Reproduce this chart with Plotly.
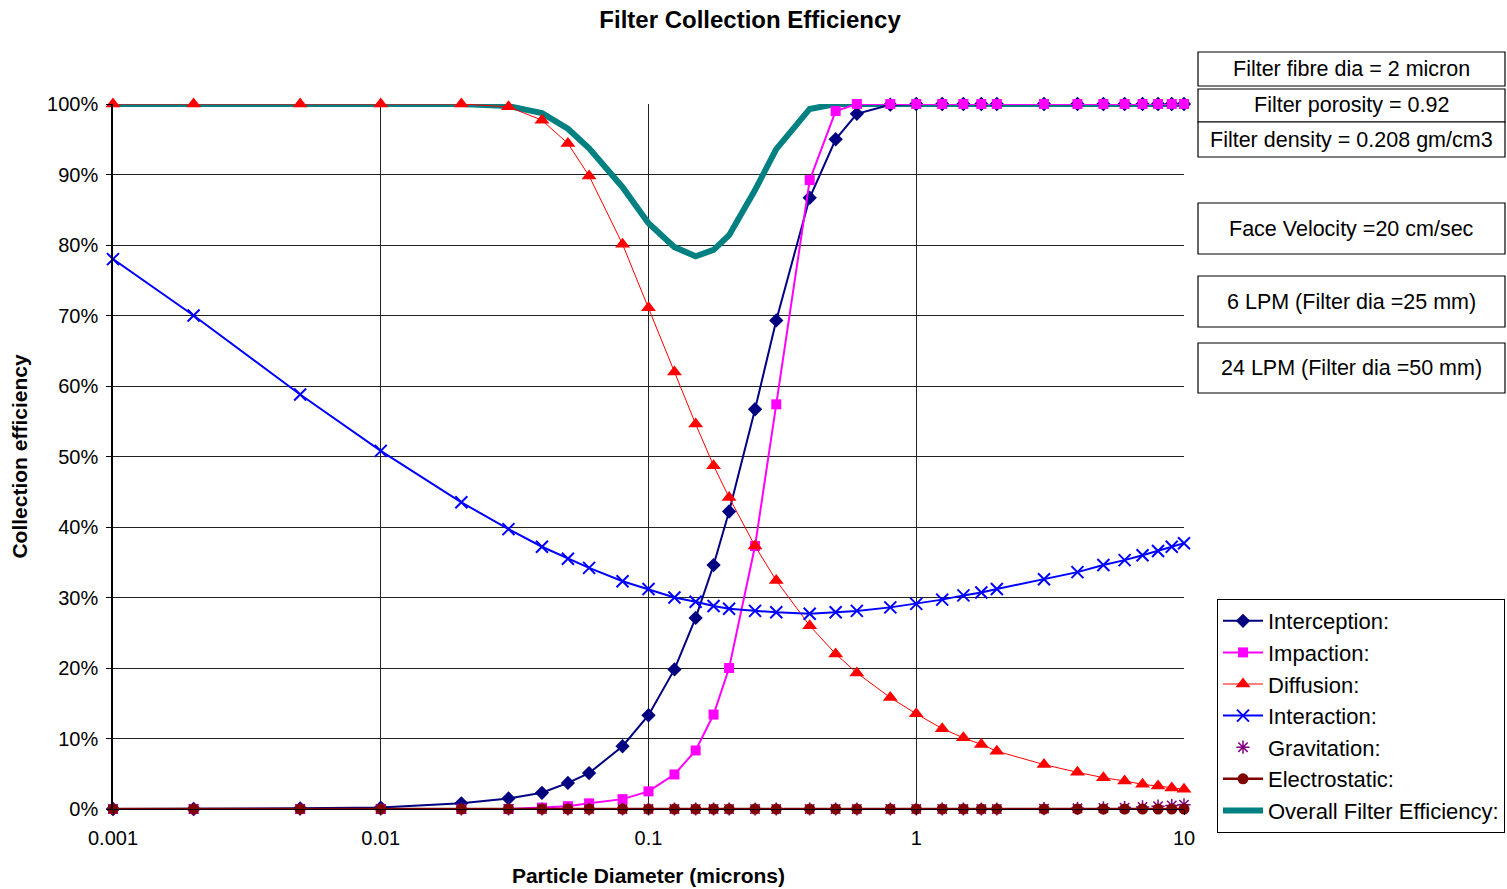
import plotly.graph_objects as go

# Particle diameters (microns)
diameter = [0.001, 0.002, 0.005, 0.01, 0.02, 0.03, 0.04, 0.05, 0.06, 0.08,
            0.1, 0.125, 0.15, 0.175, 0.2, 0.25, 0.3, 0.4, 0.5, 0.6, 0.8,
            1, 1.25, 1.5, 1.75, 2, 3, 4, 5, 6, 7, 8, 9, 10]

# Collection efficiency of each mechanism (%)
interception = [0.0, 0.0, 0.1, 0.2, 0.8, 1.5, 2.3, 3.7, 5.1, 8.9,
                13.3, 19.8, 27.1, 34.6, 42.2, 56.7, 69.3, 86.7, 95.0, 98.6, 99.9,
                100, 100, 100, 100, 100, 100, 100, 100, 100, 100, 100, 100, 100]
impaction = [0.0, 0.0, 0.0, 0.0, 0.0, 0.0, 0.2, 0.4, 0.8, 1.4,
             2.5, 4.9, 8.3, 13.4, 20.0, 37.3, 57.4, 89.2, 99.0, 100, 100,
             100, 100, 100, 100, 100, 100, 100, 100, 100, 100, 100, 100, 100]
diffusion = [100, 100, 100, 100, 100, 99.6, 97.7, 94.4, 89.8, 80.1,
             71.1, 62.0, 54.6, 48.7, 44.2, 37.3, 32.4, 26.0, 22.0, 19.3, 15.8,
             13.5, 11.4, 10.1, 9.15, 8.2, 6.3, 5.2, 4.45, 3.97, 3.5, 3.26, 2.98, 2.8]
interaction = [78.0, 70.0, 58.8, 50.8, 43.5, 39.7, 37.2, 35.5, 34.2, 32.3,
               31.2, 30.0, 29.4, 28.8, 28.4, 28.1, 27.9, 27.7, 27.9, 28.1, 28.6,
               29.1, 29.7, 30.3, 30.7, 31.2, 32.6, 33.6, 34.6, 35.3, 36.0, 36.6, 37.2, 37.7]
gravitation = [0, 0, 0, 0, 0, 0, 0, 0, 0, 0,
               0, 0, 0, 0, 0, 0, 0, 0, 0, 0, 0,
               0, 0, 0, 0, 0, 0.05, 0.1, 0.15, 0.2, 0.3, 0.4, 0.5, 0.6]
electrostatic = [0] * len(diameter)
overall = [100, 100, 100, 100, 100, 99.7, 98.7, 96.5, 93.7, 88.2,
           83.1, 79.7, 78.4, 79.3, 81.4, 87.8, 93.6, 99.3, 100, 100, 100,
           100, 100, 100, 100, 100, 100, 100, 100, 100, 100, 100, 100, 100]

x_ticks = [0.001, 0.01, 0.1, 1, 10]
x_tick_labels = ["0.001", "0.01", "0.1", "1", "10"]

info_boxes = ["Filter fibre dia = 2 micron", "Filter porosity = 0.92",
              "Filter density = 0.208 gm/cm3", "Face Velocity =20 cm/sec",
              "6 LPM (Filter dia =25 mm)", "24 LPM (Filter dia =50 mm)"]

FONT = "Liberation Sans, Arial, sans-serif"
W, H = 1507, 889
L, R, T, B = 113, 323, 104, 80
PW, PH = W - L - R, H - T - B


def pct(values):
    return [v / 100 for v in values]


fig = go.Figure()

# Overall efficiency drawn first so the mechanism markers sit on top of it
fig.add_trace(go.Scatter(x=diameter, y=pct(overall), name="Overall Filter Efficiency:",
                         mode="lines", line=dict(color="#008080", width=6),
                         legendrank=7))
fig.add_trace(go.Scatter(x=diameter, y=pct(interception), name="Interception:",
                         mode="lines+markers", line=dict(color="#000080", width=2),
                         marker=dict(symbol="diamond", size=11, color="#000080"),
                         legendrank=1))
fig.add_trace(go.Scatter(x=diameter, y=pct(impaction), name="Impaction:",
                         mode="lines+markers", line=dict(color="#FF00FF", width=2),
                         marker=dict(symbol="square", size=10, color="#FF00FF"),
                         legendrank=2))
fig.add_trace(go.Scatter(x=diameter, y=pct(diffusion), name="Diffusion:",
                         mode="lines+markers", line=dict(color="#FF0000", width=1),
                         marker=dict(symbol="triangle-up", size=13, color="#FF0000"),
                         legendrank=3))
fig.add_trace(go.Scatter(x=diameter, y=pct(interaction), name="Interaction:",
                         mode="lines+markers", line=dict(color="#0000FF", width=2),
                         marker=dict(symbol="x-thin-open", size=12, color="#0000FF",
                                     line=dict(color="#0000FF", width=2)),
                         legendrank=4))
fig.add_trace(go.Scatter(x=diameter, y=pct(gravitation), name="Gravitation:",
                         mode="markers",
                         marker=dict(symbol="asterisk-open", size=11, color="#800080",
                                     line=dict(color="#800080", width=1.5)),
                         legendrank=5))
fig.add_trace(go.Scatter(x=diameter, y=pct(electrostatic), name="Electrostatic:",
                         mode="lines+markers", line=dict(color="#800000", width=2.5),
                         marker=dict(symbol="circle", size=11, color="#800000"),
                         legendrank=6))

fig.update_traces(cliponaxis=False)


def px_x(px):
    return (px - L) / PW


def px_y(py):
    return (H - B - py) / PH


# Parameter boxes to the right of the plot
box_rows = [(52, 86), (89, 122), (122, 157), (203, 254), (276, 327), (343, 393)]
for text, (y0, y1) in zip(info_boxes, box_rows):
    fig.add_shape(type="rect", xref="paper", yref="paper",
                  x0=px_x(1198), x1=px_x(1505), y0=px_y(y1), y1=px_y(y0),
                  line=dict(color="black", width=1.2), fillcolor="white")
    fig.add_annotation(text=text, xref="paper", yref="paper",
                       x=px_x(1351.5), y=px_y((y0 + y1) / 2),
                       xanchor="center", yanchor="middle", showarrow=False,
                       font=dict(family=FONT, size=21.5, color="black"))

fig.update_layout(
    width=W, height=H,
    margin=dict(l=L, r=R, t=T, b=B, autoexpand=False),
    paper_bgcolor="white", plot_bgcolor="white",
    font=dict(family=FONT, color="black"),
    title=dict(text="<b>Filter Collection Efficiency</b>", x=0.4977, xanchor="center",
               y=1 - 20 / H, yanchor="middle",
               font=dict(family=FONT, size=24, color="black")),
    legend=dict(x=px_x(1217), y=px_y(599), xanchor="left", yanchor="top",
                bordercolor="black", borderwidth=1, bgcolor="white",
                font=dict(family=FONT, size=22, color="black"),
                itemwidth=40, tracegroupgap=0),
    showlegend=True,
)

fig.update_xaxes(type="log", range=[-3, 1], tickvals=x_ticks, ticktext=x_tick_labels,
                 showgrid=True, gridcolor="#222222", gridwidth=1,
                 showline=True, linecolor="black", linewidth=1,
                 ticks="outside", ticklen=5, tickcolor="black",
                 ticklabelstandoff=6,
                 tickfont=dict(family=FONT, size=20, color="black"),
                 title=dict(text="<b>Particle Diameter (microns)</b>", standoff=20,
                            font=dict(family=FONT, size=21, color="black")),
                 zeroline=False)
fig.update_yaxes(range=[0, 1], dtick=0.1, tickformat=".0%",
                 showgrid=True, gridcolor="#222222", gridwidth=1,
                 showline=True, linecolor="black", linewidth=1.5,
                 ticks="outside", ticklen=5, tickcolor="black",
                 ticklabelstandoff=4,
                 tickfont=dict(family=FONT, size=20, color="black"),
                 title=dict(text="<b>Collection efficiency</b>", standoff=14,
                            font=dict(family=FONT, size=21, color="black")),
                 zeroline=False)

fig.write_html("out.html")
